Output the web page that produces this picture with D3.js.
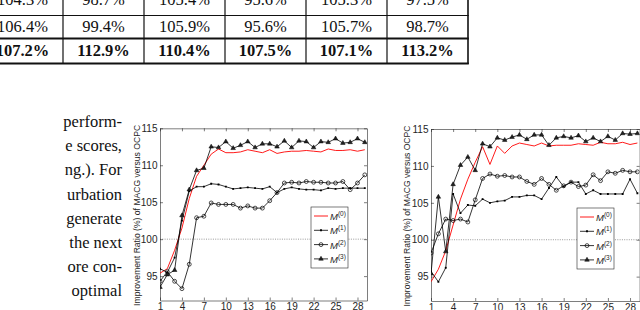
<!DOCTYPE html>
<html>
<head>
<meta charset="utf-8">
<script src="https://cdn.jsdelivr.net/npm/d3@7"></script>
<style>
  body { margin: 0; background: #fff; }
  svg { display: block; }
</style>
</head>
<body>
<div id="page"></div>
<script>
// table fragment above the figures
const tableRows = [
  ["104.3%", "98.7%", "105.4%", "95.6%", "105.3%", "97.5%"],
  ["106.4%", "99.4%", "105.9%", "95.6%", "105.7%", "98.7%"],
  ["107.2%", "112.9%", "110.4%", "107.5%", "107.1%", "113.2%"]
];

// body text cut at the left edge
const textLines = ["perform-", "e scores,", "ng.). For", "urbation", "generate", "the next", "ore con-", "optimal"];

// iteration index
const steps = [1, 2, 3, 4, 5, 6, 7, 8, 9, 10, 11, 12, 13, 14, 15, 16, 17, 18, 19, 20, 21, 22, 23, 24, 25, 26, 27, 28, 29];
const xTicks = [1, 4, 7, 10, 13, 16, 19, 22, 25, 28];
const yTicks = [95, 100, 105, 110, 115];
const seriesNames = ["(0)", "(1)", "(2)", "(3)"];

// left figure
const leftM0 = [95.4, 96.0, 98.5, 101.5, 105.5, 108.5, 110.0, 111.5, 112.2, 111.7, 111.7, 111.8, 112.1, 111.9, 111.7, 112.1, 111.6, 111.8, 111.9, 111.9, 112.0, 111.9, 111.8, 112.2, 112.0, 112.0, 112.1, 111.9, 112.1];
const leftM1 = [96.0, 95.5, 97.5, 102.5, 106.5, 107.1, 107.1, 107.5, 107.4, 107.1, 106.8, 106.9, 107.0, 106.9, 106.8, 107.1, 106.3, 106.8, 107.0, 106.8, 106.7, 106.7, 106.6, 106.9, 106.8, 106.9, 106.9, 106.9, 106.9];
const leftM2 = [94.3, 95.6, 94.3, 93.3, 96.6, 102.9, 103.1, 104.9, 104.7, 104.7, 104.7, 104.2, 104.5, 104.2, 104.2, 105.2, 106.3, 107.6, 107.7, 107.6, 107.8, 107.7, 107.7, 107.6, 107.6, 107.8, 106.7, 107.6, 108.7];
const leftM3 = [93.5, 95.2, 95.8, 103.2, 106.7, 109.3, 109.6, 112.5, 112.4, 113.2, 112.3, 112.7, 113.2, 112.4, 112.9, 112.9, 112.5, 113.3, 112.4, 113.3, 113.2, 112.4, 113.2, 113.1, 113.6, 113.0, 113.1, 113.6, 113.1];

// right figure
const rightM0 = [94.3, 96.0, 98.5, 102.0, 105.5, 108.2, 110.5, 112.6, 110.2, 112.7, 111.7, 112.7, 113.1, 112.9, 112.7, 113.1, 112.7, 112.8, 112.8, 112.8, 113.0, 112.9, 112.8, 113.2, 113.0, 113.0, 113.2, 112.9, 113.1];
const rightM1 = [95.7, 94.3, 96.2, 106.2, 103.6, 104.7, 104.6, 105.5, 105.0, 105.2, 105.3, 105.8, 105.8, 106.0, 106.0, 105.5, 107.0, 108.5, 107.2, 107.8, 107.8, 106.2, 106.7, 106.2, 106.2, 106.2, 106.2, 108.2, 106.3];
const rightM2 = [98.2, 100.8, 102.8, 102.6, 102.8, 102.4, 105.4, 108.3, 108.9, 108.6, 108.7, 108.5, 108.5, 107.9, 107.5, 108.3, 107.5, 106.7, 107.3, 107.8, 107.2, 107.4, 108.8, 108.0, 109.2, 109.0, 109.4, 109.2, 109.2];
const rightM3 = [95.4, 105.8, 98.4, 107.5, 110.1, 111.2, 109.4, 113.0, 112.6, 113.8, 113.5, 113.9, 114.2, 113.6, 114.2, 114.2, 112.8, 113.8, 114.0, 113.8, 114.1, 113.3, 113.8, 113.3, 114.0, 113.5, 114.4, 114.3, 114.4];

const yLabel = "Improvement Ratio (%) of MACG versus OCPC";

const width = 640;
const height = 310;
const axisColor = "#262626";

const svg = d3.select("#page")
  .append("svg")
  .attr("width", width)
  .attr("height", height);

/* Table */
const colLines = [63, 144, 225, 306, 387, 468];
const colX = d3.scaleLinear().domain([0, 1]).range([22.5, 103.5]); // 81px per column
const rowY = [5, 32, 56];
const table = svg.append("g").attr("font-family", "'Liberation Serif', 'DejaVu Serif', serif")
  .attr("font-size", 16.5).attr("fill", "#111");

tableRows.forEach((row, r) => {
  table.append("g").selectAll("text")
    .data(row)
    .join("text")
    .attr("x", (d, i) => colX(i))
    .attr("y", rowY[r])
    .attr("text-anchor", "middle")
    .attr("font-weight", r === 2 ? "bold" : "normal")
    .text(d => d);
});

table.append("g").selectAll("line")
  .data(colLines)
  .join("line")
  .attr("x1", d => d).attr("x2", d => d)
  .attr("y1", 0).attr("y2", 64)
  .attr("stroke", "#111")
  .attr("stroke-width", (d, i) => i === colLines.length - 1 ? 1.6 : 1.2);

[[15.5, 1], [38.5, 1.8], [63.5, 1.8]].forEach(([y, w]) => {
  table.append("line")
    .attr("x1", 0).attr("x2", 468.8)
    .attr("y1", y).attr("y2", y)
    .attr("stroke", "#111")
    .attr("stroke-width", w);
});

/* Body text */
svg.append("g")
  .attr("font-family", "'Liberation Serif', 'DejaVu Serif', serif")
  .attr("font-size", 16.5)
  .attr("fill", "#111")
  .selectAll("text")
  .data(textLines)
  .join("text")
  .attr("x", 122)
  .attr("y", (d, i) => 127 + i * 24.2)
  .attr("text-anchor", "end")
  .text(d => d);

/* Figures */
function drawChart(opts) {
  const x = d3.scaleLinear().domain([1, 29.3]).range([opts.left, opts.right]);
  const y = d3.scaleLinear().domain([91.7, 115]).range([opts.bottom, opts.top]);
  const g = svg.append("g");
  const clipId = "clip-" + opts.id;

  g.append("clipPath").attr("id", clipId)
    .append("rect")
    .attr("x", opts.left).attr("y", opts.top)
    .attr("width", opts.right - opts.left).attr("height", opts.bottom - opts.top);

  // reference line at 100 %
  g.append("line")
    .attr("x1", opts.left).attr("x2", opts.right)
    .attr("y1", y(100)).attr("y2", y(100))
    .attr("stroke", "#555")
    .attr("stroke-width", 0.6)
    .attr("stroke-dasharray", "1,1.3");

  const axes = g.append("g")
    .attr("font-family", "'Liberation Sans', Arial, sans-serif")
    .attr("font-size", 8.5);

  const styleAxis = sel => {
    sel.select(".domain").attr("stroke", axisColor).attr("stroke-width", 0.6);
    sel.selectAll(".tick line").attr("stroke", axisColor).attr("stroke-width", 0.6);
    sel.selectAll(".tick text").attr("fill", axisColor);
  };

  axes.append("g")
    .attr("transform", `translate(0,${opts.bottom})`)
    .call(d3.axisBottom(x).tickValues(xTicks).tickSizeInner(-3).tickSizeOuter(0).tickPadding(2.5))
    .call(styleAxis);
  axes.append("g")
    .attr("transform", `translate(0,${opts.top})`)
    .call(d3.axisTop(x).tickValues(xTicks).tickSizeInner(-3).tickSizeOuter(0).tickFormat(""))
    .call(styleAxis);
  axes.append("g")
    .attr("transform", `translate(${opts.left},0)`)
    .call(d3.axisLeft(y).tickValues(yTicks).tickSizeInner(-3).tickSizeOuter(0).tickPadding(2.5))
    .call(styleAxis);
  axes.append("g")
    .attr("transform", `translate(${opts.right},0)`)
    .call(d3.axisRight(y).tickValues(yTicks).tickSizeInner(-3).tickSizeOuter(0).tickFormat(""))
    .call(styleAxis);

  g.append("text")
    .attr("transform", `translate(${opts.labelX},${(opts.top + opts.bottom) / 2 + 1}) rotate(-90)`)
    .attr("text-anchor", "middle")
    .attr("font-family", "'Liberation Sans', Arial, sans-serif")
    .attr("font-size", 8.6)
    .attr("fill", axisColor)
    .text(yLabel);

  const line = d3.line()
    .x((d, i) => x(steps[i]))
    .y(d => y(d));

  const plot = g.append("g").attr("clip-path", `url(#${clipId})`);

  opts.series.forEach((s, k) => {
    plot.append("path")
      .datum(s)
      .attr("fill", "none")
      .attr("stroke", k === 0 ? "#ff0000" : "#000")
      .attr("stroke-width", k === 0 ? 0.9 : 0.8)
      .attr("d", line);
    if (k > 0) {
      plot.append("g").selectAll("path")
        .data(s)
        .join("path")
        .attr("transform", (d, i) => `translate(${x(steps[i])},${y(d)})`)
        .call(markerStyle, k);
    }
  });

  // legend
  const lg = g.append("g").attr("transform", `translate(${opts.legendX},${opts.legendY})`);
  lg.append("rect")
    .attr("width", 37).attr("height", 61)
    .attr("fill", "#fff")
    .attr("stroke", axisColor)
    .attr("stroke-width", 0.6);
  seriesNames.forEach((name, k) => {
    const row = lg.append("g").attr("transform", `translate(0,${9 + k * 14.3})`);
    row.append("line")
      .attr("x1", 3).attr("x2", 17)
      .attr("stroke", k === 0 ? "#ff0000" : "#000")
      .attr("stroke-width", k === 0 ? 0.9 : 0.8);
    if (k > 0) {
      row.append("path").attr("transform", "translate(10,0)").call(markerStyle, k);
    }
    const t = row.append("text")
      .attr("x", 19).attr("y", 4)
      .attr("font-family", "'Liberation Sans', Arial, sans-serif")
      .attr("font-size", 9.5)
      .attr("fill", axisColor);
    t.append("tspan").attr("font-style", "italic").text("M");
    t.append("tspan").attr("font-size", 6.5).attr("dy", -4).text(name);
  });
}

function markerStyle(sel, k) {
  if (k === 1) {
    sel.attr("d", d3.symbol(d3.symbolSquare, 3.5)())
      .attr("fill", "#000").attr("stroke", "none");
  } else if (k === 2) {
    sel.attr("d", d3.symbol(d3.symbolCircle, 12)())
      .attr("fill", "none").attr("stroke", "#000").attr("stroke-width", 0.7);
  } else {
    sel.attr("d", d3.symbol(d3.symbolTriangle, 9)())
      .attr("fill", "#222").attr("stroke", "#000").attr("stroke-width", 0.5);
  }
}

drawChart({
  id: "left", left: 160, right: 367, top: 128.3, bottom: 300.5,
  labelX: 140, legendX: 311, legendY: 207,
  series: [leftM0, leftM1, leftM2, leftM3]
});

drawChart({
  id: "right", left: 431, right: 639.6, top: 129, bottom: 301,
  labelX: 410, legendX: 577, legendY: 208,
  series: [rightM0, rightM1, rightM2, rightM3]
});
</script>
</body>
</html>
